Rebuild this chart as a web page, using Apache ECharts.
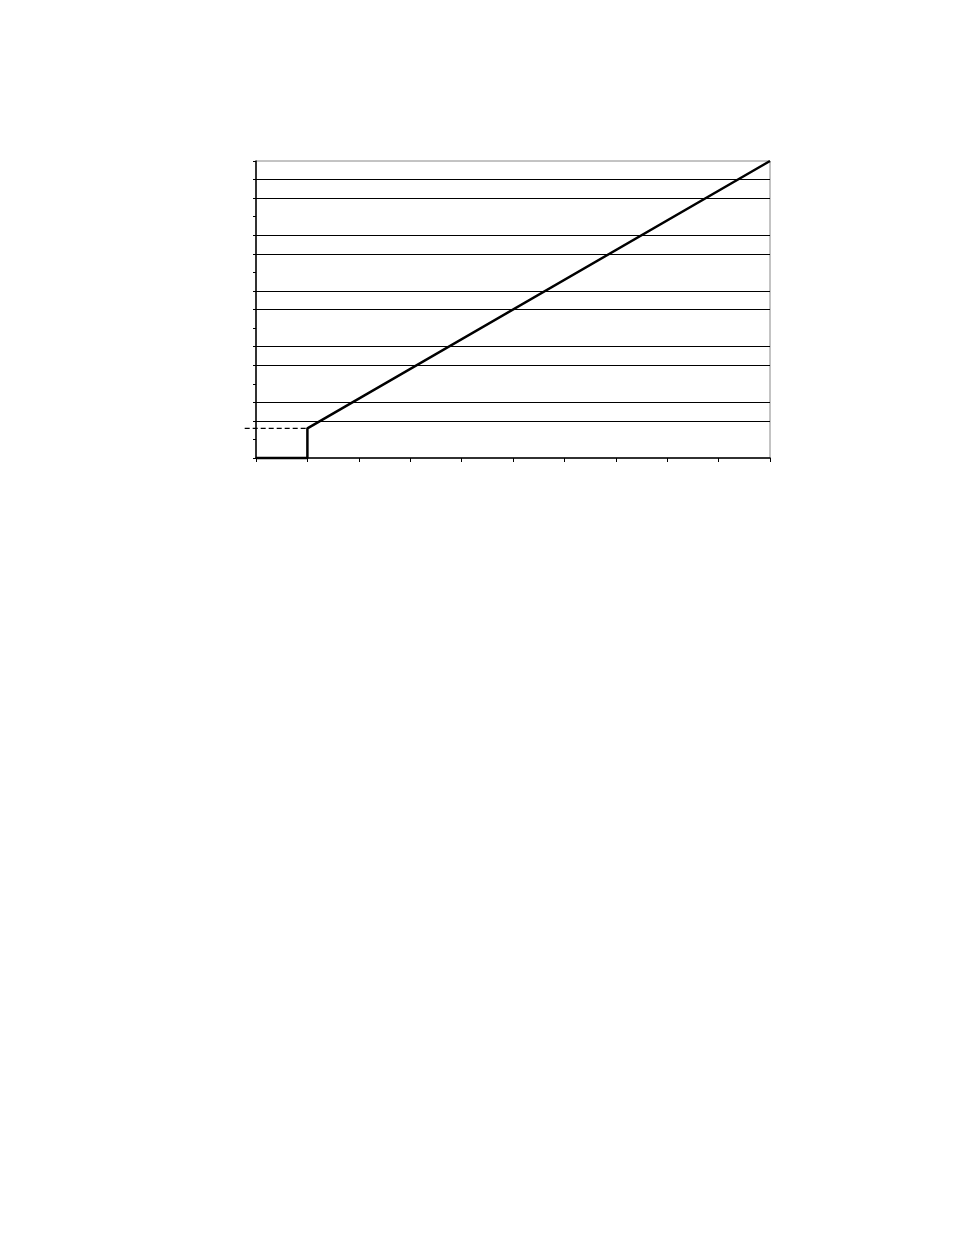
<!DOCTYPE html>
<html>
<head>
<meta charset="utf-8">
<script src="https://cdn.jsdelivr.net/npm/echarts@6/dist/echarts.min.js"></script>
<style>
  html, body { margin: 0; padding: 0; background: #fff; }
  #main { width: 954px; height: 1235px; }
</style>
</head>
<body>
<div id="main"></div>
<script type="text/javascript">
    // schedule: flat at 0, jump at x=1, then rises linearly to the top
    var schedulePoints = [[0, 0], [1, 0], [1, 1.6], [10, 16]];
    // dashed guide from the left of the axis to the jump
    var guidePoints = [[-0.22, 1.6], [1, 1.6]];
    // horizontal reference lines (y values)
    var refLines = [2, 3, 5, 6, 8, 9, 11, 12, 14, 15];

    var xMin = 0, xMax = 10, xStep = 1;
    var yMin = 0, yMax = 16, yStep = 1;

    // main plot area in px
    var plotLeft = 256, plotRight = 770, plotTop = 161, plotBottom = 458;
    var unitX = (plotRight - plotLeft) / (xMax - xMin);
    var guideMin = guidePoints[0][0];
    var guideMax = guidePoints[1][0];

    var chart = echarts.init(document.getElementById('main'));

    var hiddenAxis = {
        show: false,
        axisLine: { show: false },
        axisTick: { show: false },
        axisLabel: { show: false },
        splitLine: { show: false }
    };

    var option = {
        animation: false,
        grid: [
            {
                left: plotLeft,
                right: 954 - plotRight,
                top: plotTop,
                bottom: 1235 - plotBottom,
                show: true,
                borderColor: '#888',
                borderWidth: 1
            },
            {
                // same scale as the main grid, just reaching left of the axis
                left: plotLeft + guideMin * unitX,
                right: 954 - (plotLeft + guideMax * unitX),
                top: plotTop,
                bottom: 1235 - plotBottom
            }
        ],
        xAxis: [
            {
                type: 'value',
                gridIndex: 0,
                min: xMin,
                max: xMax,
                interval: xStep,
                axisLine: { show: true, lineStyle: { color: '#000', width: 1.5 } },
                axisTick: { show: true, inside: false, length: 4, lineStyle: { color: '#000' } },
                axisLabel: { show: false },
                splitLine: { show: false }
            },
            Object.assign({ type: 'value', gridIndex: 1, min: guideMin, max: guideMax }, hiddenAxis)
        ],
        yAxis: [
            {
                type: 'value',
                gridIndex: 0,
                min: yMin,
                max: yMax,
                interval: yStep,
                axisLine: { show: true, lineStyle: { color: '#000', width: 1.5 } },
                axisTick: { show: true, inside: false, length: 3, lineStyle: { color: '#000' } },
                axisLabel: { show: false },
                splitLine: { show: false }
            },
            Object.assign({ type: 'value', gridIndex: 1, min: yMin, max: yMax }, hiddenAxis)
        ],
        series: [
            {
                type: 'line',
                data: [],
                silent: true,
                markLine: {
                    silent: true,
                    symbol: ['none', 'none'],
                    label: { show: false },
                    lineStyle: { color: '#000', width: 1, type: 'solid' },
                    data: refLines.map(function (v) { return { yAxis: v }; })
                }
            },
            {
                type: 'line',
                xAxisIndex: 1,
                yAxisIndex: 1,
                data: guidePoints,
                showSymbol: false,
                z: 5,
                lineStyle: { color: '#000', width: 1.2, type: [5, 3] }
            },
            {
                type: 'line',
                data: schedulePoints,
                clip: false,
                showSymbol: false,
                z: 6,
                lineStyle: { color: '#000', width: 2.5 }
            }
        ]
    };

    chart.setOption(option);
</script>
</body>
</html>
